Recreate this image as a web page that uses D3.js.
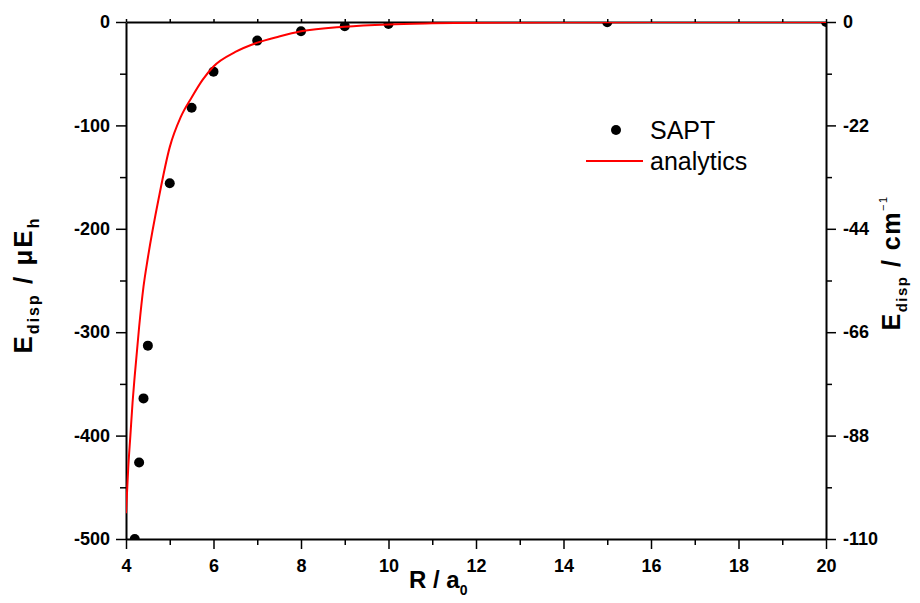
<!DOCTYPE html>
<html>
<head>
<meta charset="utf-8">
<script src="https://cdn.jsdelivr.net/npm/d3@7"></script>
<style>
  body { margin: 0; background: #fff; }
  svg { font-family: "Liberation Sans", Arial, sans-serif; }
  .axis path, .axis line { stroke: #000; }
  .axis text { font-weight: bold; font-size: 18px; fill: #000; }
</style>
</head>
<body>
<svg id="chart" width="920" height="603"></svg>
<script>
// SAPT points (R in a0, E in microhartree)
const saptR = [4.2, 4.3, 4.4, 4.5, 5, 5.5, 6, 7, 8, 9, 10, 15, 20];
const saptE = [-500, -426, -364, -313, -156, -83, -48, -18, -9, -4, -2, -0.2, 0];

// analytic curve
const anR = [4.0, 4.05, 4.1, 4.15, 4.2, 4.3, 4.4, 4.5, 4.75, 5.0, 5.25, 5.5, 5.75, 6.0, 6.5, 7.0, 7.5, 8, 9, 10, 11, 12, 14, 16, 20];
const anE = [-475, -432, -400, -368, -342, -295, -256, -228, -170, -121, -92, -73, -56, -43, -29, -20, -14, -9, -4.5, -2.3, -1.3, -0.7, -0.3, -0.1, -0.03];

const xTicks = [4, 6, 8, 10, 12, 14, 16, 18, 20];
const yTicks = [0, -100, -200, -300, -400, -500];
const y2Ticks = [0, -22, -44, -66, -88, -110];

const margin = {top: 22, right: 94, bottom: 64, left: 126};
const width = 920 - margin.left - margin.right;
const height = 603 - margin.top - margin.bottom;

const svg = d3.select('#chart');
const g = svg.append('g').attr('transform', `translate(${margin.left},${margin.top})`);

const x = d3.scaleLinear().domain([4, 20]).range([0, width]);
const y = d3.scaleLinear().domain([-500, 0]).range([height, 0]);
const y2 = d3.scaleLinear().domain([-110, 0]).range([height, 0]);
const plain = d => String(d);

g.append('clipPath').attr('id', 'plotclip')
  .append('rect').attr('width', width).attr('height', height);

// minor ticks first, then major axes on top
const minor = (axis) => axis.tickFormat('').tickSize(6);

g.append('g').attr('class', 'axis')
  .call(minor(d3.axisLeft(y).tickValues(d3.range(-450, 0, 100))))
  .call(s => s.select('.domain').remove())
  .selectAll('line').attr('stroke-width', 1.5);
g.append('g').attr('class', 'axis')
  .attr('transform', `translate(0,${height})`)
  .call(minor(d3.axisBottom(x).tickValues(d3.range(5, 20, 2))))
  .call(s => s.select('.domain').remove())
  .selectAll('line').attr('stroke-width', 1.5);
g.append('g').attr('class', 'axis')
  .attr('transform', `translate(${width},0)`)
  .call(minor(d3.axisRight(y2).tickValues(d3.range(-99, 0, 22))))
  .call(s => s.select('.domain').remove())
  .selectAll('line').attr('stroke-width', 1.5);

// top axis: small ticks at every integer
g.append('g').attr('class', 'axis')
  .call(d3.axisTop(x).tickValues(d3.range(4, 21, 1)).tickSize(3).tickSizeOuter(0).tickFormat(''))
  .call(s => s.select('.domain').attr('stroke-width', 2))
  .selectAll('line').attr('stroke-width', 1.5);

const yAxis = g.append('g').attr('class', 'axis')
  .call(d3.axisLeft(y).tickValues(yTicks).tickSize(10).tickSizeOuter(0).tickPadding(6).tickFormat(plain));
yAxis.select('.domain').attr('stroke-width', 2);
yAxis.selectAll('line').attr('stroke-width', 1.5);

const xAxis = g.append('g').attr('class', 'axis')
  .attr('transform', `translate(0,${height})`)
  .call(d3.axisBottom(x).tickValues(xTicks).tickSize(10).tickSizeOuter(0).tickPadding(10).tickFormat(plain));
xAxis.select('.domain').attr('stroke-width', 2);
xAxis.selectAll('line').attr('stroke-width', 1.5);

const y2Axis = g.append('g').attr('class', 'axis')
  .attr('transform', `translate(${width},0)`)
  .call(d3.axisRight(y2).tickValues(y2Ticks).tickSize(10).tickSizeOuter(0).tickPadding(7).tickFormat(plain));
y2Axis.select('.domain').attr('stroke-width', 2);
y2Axis.selectAll('line').attr('stroke-width', 1.5);

// data
const plot = g.append('g').attr('clip-path', 'url(#plotclip)');
plot.selectAll('circle.sapt')
  .data(saptR.map((r, i) => ({r: r, e: saptE[i]})))
  .enter().append('circle')
  .attr('class', 'sapt')
  .attr('cx', d => x(d.r))
  .attr('cy', d => y(d.e))
  .attr('r', 5)
  .attr('fill', '#000');

const line = d3.line().x(d => x(d.r)).y(d => y(d.e)).curve(d3.curveMonotoneX);
plot.append('path')
  .datum(anR.map((r, i) => ({r: r, e: anE[i]})))
  .attr('d', line)
  .attr('fill', 'none')
  .attr('stroke', '#ff0000')
  .attr('stroke-width', 2);

// legend
const legend = svg.append('g');
legend.append('circle').attr('cx', 616).attr('cy', 130).attr('r', 5).attr('fill', '#000');
legend.append('text').attr('x', 650).attr('y', 139)
  .attr('font-size', 25).text('SAPT');
legend.append('line').attr('x1', 586).attr('x2', 643).attr('y1', 161).attr('y2', 161)
  .attr('stroke', '#ff0000').attr('stroke-width', 2);
legend.append('text').attr('x', 650).attr('y', 170)
  .attr('font-size', 25).text('analytics');

// axis titles
const xt = svg.append('text')
  .attr('x', 409).attr('y', 588)
  .attr('font-weight', 'bold').attr('font-size', 24);
xt.append('tspan').text('R / a');
xt.append('tspan').attr('font-size', 14).attr('dy', 7).text('0');

const lt = svg.append('text')
  .attr('transform', 'translate(32,285) rotate(-90)')
  .attr('text-anchor', 'middle').attr('letter-spacing', 2)
  .attr('font-weight', 'bold').attr('font-size', 26);
lt.append('tspan').text('E');
lt.append('tspan').attr('font-size', 16).attr('dy', 7).text('disp');
lt.append('tspan').attr('dy', -7).text(' / \u03BCE');
lt.append('tspan').attr('font-size', 16).attr('dy', 7).text('h');

const rt = svg.append('text')
  .attr('transform', 'translate(900,263) rotate(-90)')
  .attr('text-anchor', 'middle').attr('letter-spacing', 1.5)
  .attr('font-weight', 'bold').attr('font-size', 25);
rt.append('tspan').text('E');
rt.append('tspan').attr('font-size', 15).attr('dy', 7).text('disp');
rt.append('tspan').attr('dy', -7).text(' / cm');
rt.append('tspan').attr('font-size', 11).attr('font-weight', 'normal').attr('dy', -13).text('\u22121');
</script>
</body>
</html>
